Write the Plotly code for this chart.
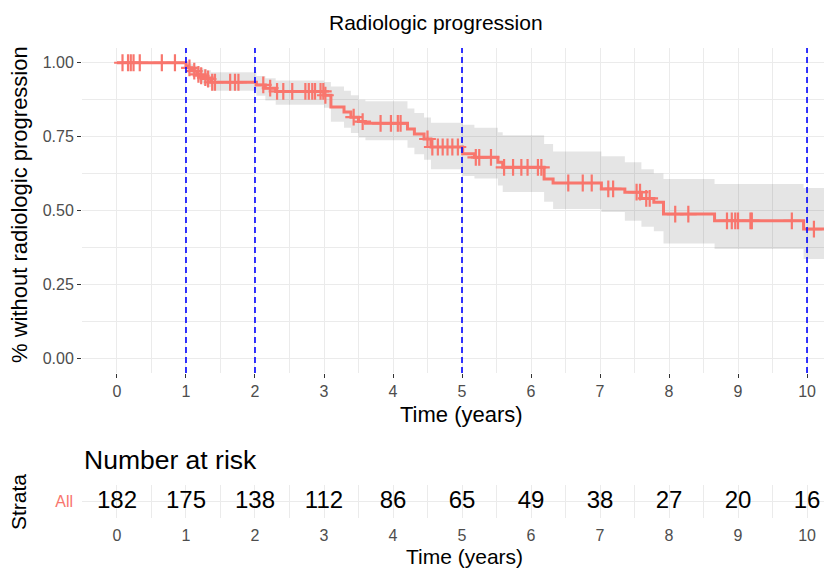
import numpy as np
import plotly.graph_objects as go

# ---------------- data ----------------
step_time = [0, 1.00, 1.04, 1.08, 1.12, 1.16, 1.20, 1.25, 1.30, 1.36, 2.02, 2.15, 2.30,
             3.00, 3.10, 3.29, 3.39, 3.50, 3.60, 4.21, 4.31, 4.45, 4.55, 5.01, 5.18,
             5.52, 5.59, 6.19, 6.32, 7.02, 7.36, 7.60, 7.78, 7.92, 8.66, 9.95]
surv = [1.0, 0.989, 0.983, 0.978, 0.972, 0.961, 0.956, 0.950, 0.945, 0.934, 0.925, 0.914, 0.903,
        0.890, 0.850, 0.833, 0.816, 0.801, 0.795, 0.776, 0.759, 0.742, 0.715, 0.692, 0.680,
        0.663, 0.646, 0.607, 0.593, 0.573, 0.562, 0.541, 0.528, 0.488, 0.465, 0.437]
upper = [1.0, 1.0, 0.998, 0.995, 0.99, 0.985, 0.982, 0.978, 0.975, 0.968, 0.955, 0.948, 0.940,
         0.935, 0.920, 0.905, 0.890, 0.875, 0.870, 0.845, 0.830, 0.815, 0.797, 0.790, 0.780,
         0.765, 0.755, 0.725, 0.700, 0.684, 0.663, 0.640, 0.625, 0.607, 0.590, 0.576]
lower = [1.0, 0.978, 0.968, 0.960, 0.955, 0.940, 0.932, 0.925, 0.918, 0.905, 0.888, 0.872, 0.858,
         0.848, 0.800, 0.780, 0.762, 0.747, 0.738, 0.712, 0.690, 0.672, 0.640, 0.617, 0.608,
         0.585, 0.563, 0.530, 0.505, 0.495, 0.465, 0.445, 0.430, 0.388, 0.370, 0.336]
censor_times = [0.08, 0.16, 0.20, 0.24, 0.33, 0.65, 0.84,
                1.05, 1.12, 1.18, 1.22, 1.28, 1.32, 1.38, 1.42,
                1.64, 1.71, 1.76,
                2.12, 2.22, 2.32, 2.41, 2.54,
                2.73, 2.78, 2.83, 2.87, 2.95, 2.99, 3.02,
                3.43, 3.56, 3.82, 3.97, 4.07, 4.11,
                4.50, 4.57, 4.65, 4.72, 4.79, 4.86, 4.94,
                5.20, 5.25, 5.42, 5.61, 5.74, 5.86, 5.95, 6.10, 6.15,
                6.54, 6.75, 6.88, 7.12, 7.19,
                7.53, 7.58, 7.67, 7.72, 8.09, 8.28, 8.84, 8.91, 8.96, 9.00,
                9.18, 9.20, 9.78, 10.10]
x_end = 10.362
ref_lines = [1, 2, 5, 10]
risk_times = [0, 1, 2, 3, 4, 5, 6, 7, 8, 9, 10]
n_at_risk = [182, 175, 138, 112, 86, 65, 49, 38, 27, 20, 16]
y_ticks = [0, 0.25, 0.5, 0.75, 1.0]
y_ticklabels = ["0.00", "0.25", "0.50", "0.75", "1.00"]

RED = "#F8766D"
FONT = "Liberation Sans, Arial, sans-serif"
OFF = 8  # page body margin
W, H = 832 - OFF, 570 - OFF


def px(x):
    return (x - OFF) / W


def py(y):
    return 1 - (y - OFF) / H


st = np.array(step_time + [x_end])
su = np.array(surv + [surv[-1]])
up = np.array(upper + [upper[-1]])
lo = np.array(lower + [lower[-1]])
ct = np.array(censor_times)
idx = np.searchsorted(np.array(step_time), ct, side="right") - 1
cs = np.array(surv)[idx]

fig = go.Figure()
# confidence band
fig.add_trace(go.Scatter(x=st, y=lo, mode="lines", line=dict(width=0, shape="hv"),
                         showlegend=False, hoverinfo="skip", xaxis="x", yaxis="y"))
fig.add_trace(go.Scatter(x=st, y=up, mode="lines", line=dict(width=0, shape="hv"),
                         fill="tonexty", fillcolor="rgba(0,0,0,0.10)",
                         showlegend=False, hoverinfo="skip", xaxis="x", yaxis="y"))
# survival curve
fig.add_trace(go.Scatter(x=st, y=su, mode="lines", line=dict(color=RED, width=3, shape="hv"),
                         showlegend=False, xaxis="x", yaxis="y"))
# censor marks
fig.add_trace(go.Scatter(x=ct, y=cs, mode="markers",
                         marker=dict(symbol="cross-thin", size=12, line=dict(color=RED, width=2.2), color=RED),
                         showlegend=False, xaxis="x", yaxis="y"))
# risk table numbers
fig.add_trace(go.Scatter(x=risk_times, y=[1] * len(risk_times), mode="text",
                         text=[str(v) for v in n_at_risk],
                         textfont=dict(size=24, color="black", family=FONT),
                         showlegend=False, xaxis="x2", yaxis="y2"))

for v in ref_lines:
    fig.add_shape(type="line", xref="x", yref="y domain", x0=v, x1=v, y0=0, y1=1,
                  line=dict(color="#0000FF", width=1.6, dash="6px,4px"))

grid = "#EBEBEB"
tickfont = dict(size=16, color="#4D4D4D", family=FONT)
xdom = [px(82), 1.0]
fig.update_layout(
    width=W, height=H, autosize=False,
    margin=dict(l=0, r=0, t=0, b=0),
    paper_bgcolor="white", plot_bgcolor="white",
    font=dict(family=FONT),
    xaxis=dict(domain=xdom, range=[-0.507, x_end], tick0=0, dtick=1,
               showgrid=True, gridcolor=grid, gridwidth=1.2, zeroline=False,
               ticks="outside", ticklen=4, tickcolor="#333333", tickwidth=1,
               tickfont=tickfont, showline=False, anchor="y",
               minor=dict(dtick=0.5, tick0=0, showgrid=True, gridcolor=grid, gridwidth=0.6, ticks="")),
    yaxis=dict(domain=[py(373), py(48)], range=[-0.05, 1.05],
               tickvals=y_ticks, ticktext=y_ticklabels,
               showgrid=True, gridcolor=grid, gridwidth=1.2, zeroline=False,
               ticks="outside", ticklen=4, tickcolor="#333333", tickwidth=1,
               tickfont=tickfont, anchor="x",
               minor=dict(dtick=0.125, tick0=0, showgrid=True, gridcolor=grid, gridwidth=0.6, ticks="")),
    xaxis2=dict(domain=xdom, range=[-0.507, x_end], tick0=0, dtick=1,
                showgrid=True, gridcolor=grid, gridwidth=1.2, zeroline=False,
                ticks="", ticklabelstandoff=6,
                tickfont=tickfont, anchor="y2",
                minor=dict(dtick=0.5, tick0=0, showgrid=True, gridcolor=grid, gridwidth=0.6, ticks="")),
    yaxis2=dict(domain=[py(518), py(485)], range=[0.5, 1.5],
                tickvals=[1], ticktext=["All"], ticks="", ticklabelstandoff=8,
                showgrid=True, gridcolor=grid, gridwidth=1.2, zeroline=False,
                tickfont=dict(size=16, color=RED, family=FONT), anchor="x2"),
)

ann = [
    dict(text="Radiologic progression", x=px(436), y=py(22), font=dict(size=21, color="black")),
    dict(text="Time (years)", x=px(461), y=py(414), font=dict(size=22, color="black")),
    dict(text="% without radiologic progression", x=px(19), y=py(205), textangle=-90,
         font=dict(size=22, color="black")),
    dict(text="Number at risk", x=px(82), y=py(460), xanchor="left", font=dict(size=26.5, color="black")),
    dict(text="Strata", x=px(19), y=py(502), textangle=-90, font=dict(size=21, color="black")),
    dict(text="Time (years)", x=px(464), y=py(556), font=dict(size=21, color="black")),
]
for a in ann:
    a.setdefault("xanchor", "center")
    fig.add_annotation(xref="paper", yref="paper", showarrow=False, yanchor="middle",
                       font_family=FONT, **{k: v for k, v in a.items()})

fig.write_html("out.html")
